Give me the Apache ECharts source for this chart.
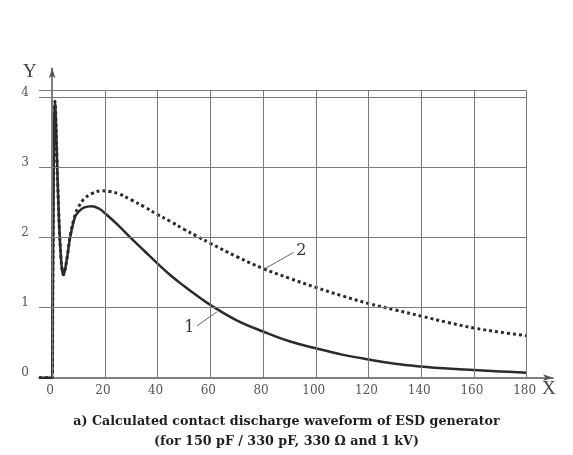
<!DOCTYPE html>
<html>
<head>
<meta charset="utf-8">
<script src="https://cdn.jsdelivr.net/npm/echarts@6/dist/echarts.min.js"></script>
<style>
    html, body { margin: 0; padding: 0; background: #fff; }
    #chart { width: 573px; height: 455px; }
</style>
</head>
<body>
<div id="chart"></div>
<script>
// curve 1 (solid) - time and value
const tSolid = [-5, 0, 0.2, 0.5, 0.8, 1.05, 1.3, 1.8, 2.3, 2.7, 3.3, 3.8, 4.3, 4.9, 5.8, 6.8, 8.7, 10, 12, 15, 18, 20, 25, 30, 35, 40, 45, 50, 55, 60, 70, 80, 90, 100, 110, 120, 130, 140, 150, 160, 170, 180];
const iSolid = [0, 0, 1.0, 2.6, 3.7, 3.95, 3.8, 3.15, 2.55, 2.15, 1.73, 1.53, 1.47, 1.55, 1.75, 2.0, 2.3, 2.37, 2.43, 2.45, 2.41, 2.35, 2.18, 1.99, 1.81, 1.63, 1.46, 1.31, 1.17, 1.04, 0.82, 0.66, 0.52, 0.42, 0.33, 0.26, 0.2, 0.16, 0.13, 0.11, 0.09, 0.07];

// curve 2 (dotted)
const tDotted = [-5, 0, 0.2, 0.5, 0.8, 1.05, 1.3, 1.8, 2.3, 2.7, 3.3, 3.8, 4.3, 4.9, 5.8, 6.8, 8.7, 10, 12, 15, 19, 22, 25, 30, 35, 40, 45, 50, 55, 60, 70, 80, 90, 100, 110, 120, 130, 140, 150, 160, 170, 180];
const iDotted = [0, 0, 1.0, 2.6, 3.7, 3.95, 3.8, 3.15, 2.55, 2.15, 1.73, 1.53, 1.47, 1.55, 1.75, 2.02, 2.33, 2.44, 2.55, 2.63, 2.67, 2.66, 2.63, 2.54, 2.44, 2.33, 2.23, 2.12, 2.02, 1.92, 1.73, 1.56, 1.42, 1.29, 1.17, 1.06, 0.97, 0.88, 0.79, 0.71, 0.65, 0.60];

// tick labels and grid
const xTicks = [0, 20, 40, 60, 80, 100, 120, 140, 160, 180];
const yTicks = [0, 1, 2, 3, 4];
const gridX = [0, 20, 40, 60, 80, 100, 120, 140, 160, 180];
const gridY = [1, 2, 3, 4, 4.1];
const xMin = -5, xEnd = 180, yTop = 4.1;

// leader lines for the curve numbers: [from curve, to label]
const lead1 = [[62.5, 0.94], [54.9, 0.74]];
const lead2 = [[80.8, 1.56], [91.6, 1.79]];

const zip = (t, v) => t.map((x, i) => [x, v[i]]);

let gridLines = [];
gridX.forEach(x => gridLines.push([{ coord: [x, 0] }, { coord: [x, yTop] }]));
gridY.forEach(y => gridLines.push([{ coord: [xMin, y] }, { coord: [xEnd, y] }]));

const serif = "DejaVu Serif";

let chart = echarts.init(document.querySelector("#chart"));

let option = {
    animation: false,
    backgroundColor: "#fff",
    title: {
        text: "a) Calculated contact discharge waveform of ESD generator\n(for 150 pF / 330 pF, 330 \u03A9 and 1 kV)",
        left: "center",
        top: 407,
        textStyle: {
            fontFamily: serif,
            fontWeight: "bold",
            fontSize: 12.7,
            lineHeight: 20,
            color: "#1e1e1e"
        }
    },
    // axis letter for Y, placed left of the arrow
    graphic: [{
        type: "text",
        left: 23,
        top: 63,
        silent: true,
        style: { text: "Y", fontFamily: "Liberation Serif", fontSize: 19, fill: "#444" }
    }],
    grid: { left: 39, right: 20, top: 68.3, bottom: 77.3 },
    xAxis: {
        type: "value",
        min: -5,
        max: 190,
        name: "X",
        nameLocation: "end",
        nameGap: -5,
        nameTextStyle: {
            fontFamily: "Liberation Serif",
            fontSize: 19,
            color: "#444",
            align: "center",
            verticalAlign: "top",
            padding: [2, 0, 0, 0]
        },
        axisLine: {
            lineStyle: { color: "#555", width: 1.5 },
            symbol: ["none", "arrow"],
            symbolSize: [5, 10]
        },
        axisTick: { show: false },
        splitLine: { show: false },
        axisLabel: {
            customValues: xTicks,
            margin: 7,
            fontFamily: serif,
            fontSize: 12,
            color: "#555",
            padding: [0, 4, 0, 0]
        }
    },
    yAxis: {
        type: "value",
        min: 0,
        max: 4.42,
        axisLine: {
            lineStyle: { color: "#555", width: 1.5 },
            symbol: ["none", "arrow"],
            symbolSize: [5, 10]
        },
        axisTick: { show: false },
        splitLine: { show: false },
        axisLabel: {
            customValues: yTicks,
            margin: 10,
            fontFamily: serif,
            fontSize: 12,
            color: "#555",
            verticalAlign: "bottom",
            lineHeight: 9
        }
    },
    series: [
        {
            // grid lines
            type: "line",
            data: [[xMin, 0]],
            showSymbol: false,
            lineStyle: { opacity: 0 },
            silent: true,
            markLine: {
                silent: true,
                symbol: ["none", "none"],
                label: { show: false },
                lineStyle: { color: "#7a7a7a", width: 1, type: "solid" },
                data: gridLines
            }
        },
        {
            name: "1",
            type: "line",
            data: zip(tSolid, iSolid),
            showSymbol: false,
            smooth: 0.4,
            lineStyle: { color: "#2b2b2b", width: 2.5 },
            z: 3,
            markLine: {
                silent: true,
                symbol: ["none", "none"],
                lineStyle: { color: "#666", width: 1, type: "solid" },
                label: {
                    show: true, position: "end", distance: 3, formatter: "1",
                    fontFamily: serif, fontSize: 16, color: "#333"
                },
                data: [[{ coord: lead1[0] }, { coord: lead1[1] }]]
            }
        },
        {
            name: "2",
            type: "line",
            data: zip(tDotted, iDotted),
            showSymbol: false,
            smooth: 0.4,
            lineStyle: { color: "#2b2b2b", width: 3, type: [3, 3], cap: "butt" },
            z: 4,
            markLine: {
                silent: true,
                symbol: ["none", "none"],
                lineStyle: { color: "#666", width: 1, type: "solid" },
                label: {
                    show: true, position: "end", distance: 3, formatter: "2",
                    fontFamily: serif, fontSize: 16, color: "#333"
                },
                data: [[{ coord: lead2[0] }, { coord: lead2[1] }]]
            }
        }
    ]
};

chart.setOption(option);
</script>
</body>
</html>
